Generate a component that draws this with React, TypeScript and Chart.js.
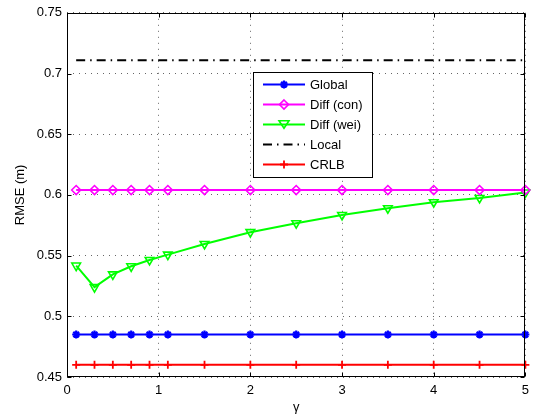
import React, { useEffect, useRef } from "react";
import { Chart, registerables } from "chart.js";

Chart.register(...registerables);

const gammaValues = [0.1, 0.3, 0.5, 0.7, 0.9, 1.1, 1.5, 2, 2.5, 3, 3.5, 4, 4.5, 5];
const globalRMSE = [0.485, 0.485, 0.485, 0.485, 0.485, 0.485, 0.485, 0.485, 0.485, 0.485, 0.485, 0.485, 0.485, 0.485];
const diffConRMSE = [0.604, 0.604, 0.604, 0.604, 0.604, 0.604, 0.604, 0.604, 0.604, 0.604, 0.604, 0.604, 0.604, 0.604];
const diffWeiRMSE = [0.5418, 0.524, 0.5345, 0.5412, 0.5464, 0.5508, 0.5596, 0.5693, 0.5767, 0.5835, 0.589, 0.594, 0.5975, 0.602];
const localRMSE = [0.711, 0.711, 0.711, 0.711, 0.711, 0.711, 0.711, 0.711, 0.711, 0.711, 0.711, 0.711, 0.711, 0.711];
const crlbRMSE = [0.46, 0.46, 0.46, 0.46, 0.46, 0.46, 0.46, 0.46, 0.46, 0.46, 0.46, 0.46, 0.46, 0.46];

const seriesNames = ["Global", "Diff (con)", "Diff (wei)", "Local", "CRLB"];
const xTickValues = [0, 1, 2, 3, 4, 5];
const yTickValues = [0.45, 0.5, 0.55, 0.6, 0.65, 0.7, 0.75];
const xAxisTitle = "\u03b3";
const yAxisTitle = "RMSE (m)";

const FONT = "'Liberation Sans', Arial, Helvetica, sans-serif";

function toPoints(ys: number[]) {
  return gammaValues.map((x, i) => ({ x, y: ys[i] }));
}

function drawMarker(ctx: CanvasRenderingContext2D, style: string, x: number, y: number, r: number, color: string, lw: number) {
  ctx.save();
  ctx.strokeStyle = color;
  ctx.lineWidth = lw;
  ctx.setLineDash([]);
  ctx.beginPath();
  if (style === "star") {
    ctx.moveTo(x - r, y); ctx.lineTo(x + r, y);
    ctx.moveTo(x, y - r); ctx.lineTo(x, y + r);
    const d = r * 0.7071;
    ctx.moveTo(x - d, y - d); ctx.lineTo(x + d, y + d);
    ctx.moveTo(x - d, y + d); ctx.lineTo(x + d, y - d);
  } else if (style === "cross") {
    ctx.moveTo(x - r, y); ctx.lineTo(x + r, y);
    ctx.moveTo(x, y - r); ctx.lineTo(x, y + r);
  } else if (style === "rectRot") {
    ctx.moveTo(x, y - r); ctx.lineTo(x + r, y); ctx.lineTo(x, y + r); ctx.lineTo(x - r, y); ctx.closePath();
  } else if (style === "triangleDown") {
    const h = r * 1.5;
    ctx.moveTo(x - r, y - h / 2); ctx.lineTo(x + r, y - h / 2); ctx.lineTo(x, y + h / 2); ctx.closePath();
  }
  ctx.stroke();
  ctx.restore();
}

const frameLegendPlugin = {
  id: "frameLegend",
  afterDraw(chart: any) {
    const { ctx, chartArea: a, scales } = chart;
    ctx.save();
    ctx.strokeStyle = "#000";
    ctx.lineWidth = 1;
    ctx.setLineDash([]);
    const L = Math.round(a.left) + 0.5, R = Math.round(a.right) - 0.5;
    const T = Math.round(a.top) + 0.5, B = Math.round(a.bottom) - 0.5;
    ctx.strokeRect(L, T, R - L, B - T);
    const tl = 4;
    ctx.beginPath();
    xTickValues.forEach((v) => {
      const px = Math.round(scales.x.getPixelForValue(v)) + 0.5;
      ctx.moveTo(px, B); ctx.lineTo(px, B - tl);
      ctx.moveTo(px, T); ctx.lineTo(px, T + tl);
    });
    yTickValues.forEach((v) => {
      const py = Math.round(scales.y.getPixelForValue(v)) + 0.5;
      ctx.moveTo(L, py); ctx.lineTo(L + tl, py);
      ctx.moveTo(R, py); ctx.lineTo(R - tl, py);
    });
    ctx.stroke();

    const bx = 253.5, by = 72.5, bw = 119, bh = 105;
    ctx.fillStyle = "#fff";
    ctx.fillRect(bx, by, bw, bh);
    ctx.strokeStyle = "#000";
    ctx.lineWidth = 1;
    ctx.strokeRect(bx, by, bw, bh);
    const rowY0 = 84.5, rowGap = 20;
    const lx1 = 263, lx2 = 305, tx = 310;
    ctx.font = `13px ${FONT}`;
    ctx.textBaseline = "middle";
    ctx.textAlign = "left";
    chart.data.datasets.forEach((ds: any, i: number) => {
      const y = rowY0 + i * rowGap;
      ctx.save();
      ctx.strokeStyle = ds.borderColor;
      ctx.lineWidth = ds.borderWidth;
      ctx.setLineDash(ds.borderDash || []);
      ctx.beginPath();
      ctx.moveTo(lx1, y); ctx.lineTo(lx2, y);
      ctx.stroke();
      ctx.restore();
      if (ds.legendMarker) {
        drawMarker(ctx, ds.legendMarker, (lx1 + lx2) / 2, y, ds.pointRadius, ds.borderColor, ds.pointBorderWidth);
      }
      ctx.fillStyle = "#000";
      ctx.fillText(ds.label, tx, y + 1);
    });
    ctx.restore();
  },
};

export default function App() {
  const canvasRef = useRef<HTMLCanvasElement | null>(null);

  useEffect(() => {
    document.body.style.margin = "0";
    const canvas = canvasRef.current;
    if (!canvas) return;
    const common = { fill: false, tension: 0, clip: false as any, borderWidth: 2, pointBorderWidth: 1.6, pointBackgroundColor: "rgba(0,0,0,0)" };
    const chart = new Chart(canvas, {
      type: "line",
      data: {
        datasets: [
          { ...common, label: seriesNames[0], data: toPoints(globalRMSE), borderColor: "#0000ff", pointBorderColor: "#0000ff", pointStyle: "star", pointRadius: 4, pointBorderWidth: 2.2, legendMarker: "star" } as any,
          { ...common, label: seriesNames[1], data: toPoints(diffConRMSE), borderColor: "#ff00ff", pointBorderColor: "#ff00ff", pointStyle: "rectRot", pointRadius: 4.5, legendMarker: "rectRot" } as any,
          { ...common, label: seriesNames[2], data: toPoints(diffWeiRMSE), borderColor: "#00ff00", pointBorderColor: "#00ff00", pointStyle: "triangle", rotation: 180, pointRadius: 5, legendMarker: "triangleDown" } as any,
          { ...common, label: seriesNames[3], data: toPoints(localRMSE), borderColor: "#000000", borderDash: [9, 5, 1.5, 5], pointRadius: 0, legendMarker: null } as any,
          { ...common, label: seriesNames[4], data: toPoints(crlbRMSE), borderColor: "#ff0000", pointBorderColor: "#ff0000", pointStyle: "cross", pointRadius: 4, pointBorderWidth: 1.8, legendMarker: "cross" } as any,
        ],
      },
      options: {
        responsive: false,
        animation: false,
        events: [],
        layout: { padding: { left: 0, right: 4, top: 11, bottom: 0 } },
        plugins: { legend: { display: false }, tooltip: { enabled: false } },
        scales: {
          x: {
            type: "linear",
            min: 0,
            max: 5,
            afterFit: (s: any) => { s.height = 42; },
            afterBuildTicks: (s: any) => { s.ticks = xTickValues.map((v) => ({ value: v })); },
            ticks: { color: "#000", font: { family: FONT, size: 13 }, padding: 6, callback: (v: any) => String(v), maxRotation: 0 },
            grid: { color: "rgba(0,0,0,0.6)", lineWidth: 1, drawTicks: false },
            border: { display: false, dash: [1, 5] },
            title: { display: true, text: xAxisTitle, color: "#000", font: { family: FONT, size: 13 }, padding: { top: 0, bottom: 4 } },
          },
          y: {
            type: "linear",
            min: 0.45,
            max: 0.75,
            afterFit: (s: any) => { s.width = 67; },
            afterBuildTicks: (s: any) => { s.ticks = yTickValues.map((v) => ({ value: v })); },
            ticks: { color: "#000", font: { family: FONT, size: 13 }, padding: 5, callback: (v: any) => String(Number(Number(v).toFixed(2))) },
            grid: { color: "rgba(0,0,0,0.6)", lineWidth: 1, drawTicks: false },
            border: { display: false, dash: [1, 5] },
            title: { display: true, text: yAxisTitle, color: "#000", font: { family: FONT, size: 13 }, padding: { top: 13, bottom: 0 } },
          },
        },
      },
      plugins: [frameLegendPlugin],
    });
    return () => chart.destroy();
  }, []);

  return (
    <canvas
      ref={canvasRef}
      width={535}
      height={419}
      style={{ position: "absolute", left: 0, top: 0, width: 535, height: 419, display: "block" }}
    />
  );
}
